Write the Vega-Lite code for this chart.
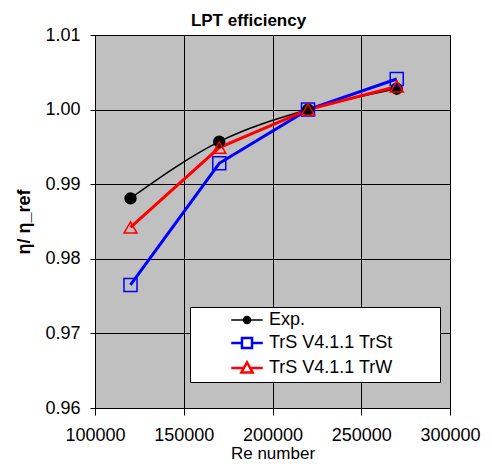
{
  "$schema": "https://vega.github.io/schema/vega-lite/v6.json",
  "width": 355,
  "height": 373,
  "autosize": "none",
  "padding": {"left": 95, "top": 35, "right": 42, "bottom": 56},
  "background": "white",
  "title": {"text": "LPT efficiency", "font": "Liberation Sans", "fontSize": 17, "fontWeight": "bold", "color": "black", "anchor": "middle", "dx": -24, "offset": -4},
  "config": {
    "view": {"fill": "#C0C0C0", "stroke": "black", "strokeWidth": 1},
    "axis": {
      "labelFont": "Liberation Sans", "labelFontSize": 18, "labelColor": "black",
      "titleFont": "Liberation Sans", "titleFontSize": 18, "titleColor": "black",
      "domainColor": "black", "tickColor": "black", "gridColor": "black", "gridOpacity": 1, "gridWidth": 1,
      "domainWidth": 1, "tickWidth": 1, "labelOverlap": false, "labelFlush": false
    }
  },
  "data": {"values": [
    {"Re": 120000, "eta": 0.9881, "series": "Exp."},
    {"Re": 170000, "eta": 0.9957, "series": "Exp."},
    {"Re": 220000, "eta": 1.0, "series": "Exp."},
    {"Re": 270000, "eta": 1.0028, "series": "Exp."},
    {"Re": 120000, "eta": 0.9765, "series": "TrS V4.1.1 TrSt"},
    {"Re": 170000, "eta": 0.9928, "series": "TrS V4.1.1 TrSt"},
    {"Re": 220000, "eta": 1.0, "series": "TrS V4.1.1 TrSt"},
    {"Re": 270000, "eta": 1.0041, "series": "TrS V4.1.1 TrSt"},
    {"Re": 120000, "eta": 0.9842, "series": "TrS V4.1.1 TrW"},
    {"Re": 170000, "eta": 0.9949, "series": "TrS V4.1.1 TrW"},
    {"Re": 220000, "eta": 1.0, "series": "TrS V4.1.1 TrW"},
    {"Re": 270000, "eta": 1.0031, "series": "TrS V4.1.1 TrW"}
  ]},
  "encoding": {
    "x": {"field": "Re", "type": "quantitative", "scale": {"domain": [100000, 300000], "nice": false, "zero": false},
      "axis": {"values": [100000, 150000, 200000, 250000, 300000], "format": "d", "title": "Re number", "titleFontWeight": "normal", "titleFontSize": 17, "tickSize": 7, "labelPadding": 11, "titlePadding": 1}},
    "y": {"field": "eta", "type": "quantitative", "scale": {"domain": [0.96, 1.01], "nice": false, "zero": false},
      "axis": {"values": [0.96, 0.97, 0.98, 0.99, 1.0, 1.01], "format": ".2f", "title": "η/ η_ref", "titleFontWeight": "bold", "tickSize": 5, "labelPadding": 10, "titlePadding": 11}}
  },
  "layer": [
    {
      "transform": [{"filter": "datum.series === 'Exp.'"}],
      "mark": {"type": "line", "interpolate": "monotone", "strokeWidth": 1.5},
      "encoding": {
        "color": {"field": "series", "type": "nominal",
          "scale": {"domain": ["Exp.", "TrS V4.1.1 TrSt", "TrS V4.1.1 TrW"], "range": ["black", "#0000FF", "#FF0000"]},
          "legend": {
            "title": null, "orient": "none", "legendX": 95, "legendY": 272,
            "fillColor": "white", "strokeColor": "black", "padding": 4,
            "labelFont": "Liberation Sans", "labelFontSize": 18, "labelColor": "black",
            "symbolSize": 225, "symbolOffset": 44, "labelOffset": 13, "rowPadding": 3,
            "encode": {
              "symbols": {"update": {
              "shape": {"signal": "datum.value === 'Exp.' ? 'M-2.1,0H2.1M-0.47,0A0.47,0.47,0,1,0,0.47,0A0.47,0.47,0,1,0,-0.47,0ZM24.5,0' : datum.value === 'TrS V4.1.1 TrSt' ? 'M-2.1,0H-0.67M0.67,0H2.1M-0.67,-0.67H0.67V0.67H-0.67ZM24.5,0' : 'M-2.1,0H-0.55M0.55,0H2.1M0,-0.75L0.75,0.6H-0.75ZM24.5,0'"},
              "fill": {"signal": "datum.value === 'Exp.' ? 'black' : 'transparent'"},
              "stroke": {"signal": "datum.value === 'Exp.' ? 'black' : datum.value === 'TrS V4.1.1 TrSt' ? '#0000FF' : '#FF0000'"},
              "strokeWidth": {"signal": "datum.value === 'Exp.' ? 1.5 : 2.5"},
              "opacity": {"value": 1}
            }}}
          }}
      }
    },
    {
      "transform": [{"filter": "datum.series !== 'Exp.'"}],
      "mark": {"type": "line", "strokeWidth": 3},
      "encoding": {"color": {"field": "series", "type": "nominal"}}
    },
    {
      "transform": [{"filter": "datum.series === 'Exp.'"}],
      "mark": {"type": "point", "shape": "circle", "filled": true, "color": "black", "opacity": 1, "size": 154}
    },
    {
      "transform": [{"filter": "datum.series === 'TrS V4.1.1 TrSt'"}],
      "mark": {"type": "point", "shape": "square", "filled": false, "color": "#0000FF", "strokeWidth": 1.5, "opacity": 1, "size": 170}
    },
    {
      "transform": [{"filter": "datum.series === 'TrS V4.1.1 TrW'"}],
      "mark": {"type": "point", "shape": "triangle-up", "filled": false, "color": "#FF0000", "strokeWidth": 1.5, "opacity": 1, "size": 170}
    }
  ]
}
